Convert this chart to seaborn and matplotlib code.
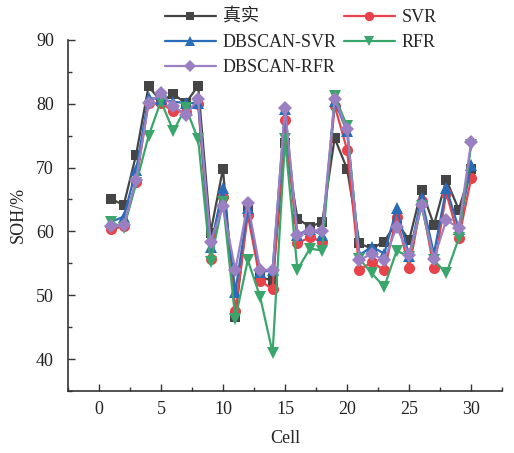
import numpy as np
import pandas as pd
import matplotlib
matplotlib.use("Agg")
import matplotlib.pyplot as plt
from matplotlib.ticker import MultipleLocator
import seaborn as sns

cells = list(range(1, 31))
true_vals = [65.1, 64.1, 72.0, 82.7, 80.4, 81.5, 80.1, 82.8, 59.8, 69.8,
             46.6, 63.8, 52.8, 52.3, 73.8, 62.0, 60.7, 61.5, 74.6, 69.8,
             58.1, 57.3, 58.4, 61.5, 58.6, 66.5, 61.0, 68.1, 63.4, 69.8]
svr_vals = [60.3, 60.8, 67.8, 80.1, 80.1, 78.8, 78.7, 80.0, 55.7, 65.4,
            47.6, 62.6, 52.3, 50.9, 77.4, 58.1, 59.1, 58.4, 79.7, 72.8,
            53.9, 55.2, 53.9, 62.3, 54.2, 64.7, 54.2, 66.0, 58.9, 68.3]
dbsvr_vals = [61.5, 62.3, 69.6, 80.9, 80.7, 80.3, 80.1, 80.1, 57.6, 66.8,
              50.5, 63.6, 53.6, 53.9, 79.1, 59.5, 60.3, 59.5, 80.4, 75.7,
              56.3, 57.6, 56.5, 63.6, 56.2, 65.2, 56.5, 66.8, 60.4, 70.4]
rfr_vals = [61.5, 60.5, 67.5, 74.9, 80.4, 75.7, 79.4, 74.4, 55.2, 64.6,
            46.3, 55.5, 49.7, 41.0, 74.4, 54.0, 57.3, 57.0, 81.2, 76.5,
            55.7, 53.4, 51.3, 57.0, 56.0, 63.9, 55.5, 53.4, 58.9, 73.6]
dbrfr_vals = [60.8, 61.0, 68.1, 80.1, 81.6, 79.6, 78.3, 80.7, 58.4, 63.9,
              53.9, 64.4, 53.9, 53.9, 79.4, 59.4, 60.1, 60.1, 80.7, 76.0,
              55.5, 56.5, 55.5, 60.7, 56.3, 64.1, 55.7, 61.8, 60.5, 74.0]

series_names = ["真实", "SVR", "DBSCAN-SVR", "RFR", "DBSCAN-RFR"]
series_vals = [true_vals, svr_vals, dbsvr_vals, rfr_vals, dbrfr_vals]

df = pd.DataFrame({
    "Cell": cells * len(series_names),
    "SOH": sum(series_vals, []),
    "Model": sum([[n] * len(cells) for n in series_names], []),
})

sns.set_style("white")
plt.rcParams["font.family"] = ["Liberation Serif", "Noto Sans CJK SC"]

colors = {"真实": "#454545", "SVR": "#e8434a", "DBSCAN-SVR": "#2b6cb8",
          "RFR": "#3aa66b", "DBSCAN-RFR": "#9a80c2"}
markers = {"真实": "s", "SVR": "o", "DBSCAN-SVR": "^", "RFR": "v", "DBSCAN-RFR": "D"}
msizes = {"真实": 7, "SVR": 8, "DBSCAN-SVR": 8, "RFR": 8, "DBSCAN-RFR": 7}

fig = plt.figure(figsize=(5.14, 4.53), dpi=100)
ax = fig.add_axes([0.132, 0.137, 0.845, 0.775])

for name in series_names:
    sub = df[df["Model"] == name]
    sns.lineplot(data=sub, x="Cell", y="SOH", ax=ax, color=colors[name],
                 marker=markers[name], markersize=msizes[name], linewidth=1.6,
                 markeredgewidth=0, label=name)

ax.set_xlim(-2.5, 32.5)
ax.set_ylim(35, 90)
ax.xaxis.set_major_locator(MultipleLocator(5))
ax.xaxis.set_minor_locator(MultipleLocator(2.5))
ax.yaxis.set_major_locator(MultipleLocator(10))
ax.yaxis.set_minor_locator(MultipleLocator(5))
ax.tick_params(which="both", direction="in", colors="#333333", labelcolor="#222222",
               labelsize=13, bottom=True, left=True)
ax.tick_params(axis="x", which="major", pad=7)
ax.tick_params(axis="y", which="major", pad=10)
ax.tick_params(which="major", length=5, width=1)
ax.tick_params(which="minor", length=3, width=1)
for s in ["top", "right"]:
    ax.spines[s].set_visible(False)
for s in ["left", "bottom"]:
    ax.spines[s].set_color("#333333")
    ax.spines[s].set_linewidth(1.2)
ax.set_xlabel("Cell", fontsize=13, labelpad=9)
ax.set_ylabel("SOH/%", fontsize=13, labelpad=7)

handles, labels = ax.get_legend_handles_labels()
order = ["真实", "DBSCAN-SVR", "DBSCAN-RFR", "SVR", "RFR"]
hmap = dict(zip(labels, handles))
ax.legend([hmap[k] for k in order], order, loc="upper left",
          bbox_to_anchor=(165 / 514, 1 - 9 / 453), bbox_transform=fig.transFigure,
          ncol=2, frameon=False, fontsize=13, handlelength=2.8, columnspacing=0.4,
          labelspacing=0.45, handletextpad=0.4, borderaxespad=0, borderpad=0,
          markerscale=0.85)

fig.savefig("out.png", dpi=100)
